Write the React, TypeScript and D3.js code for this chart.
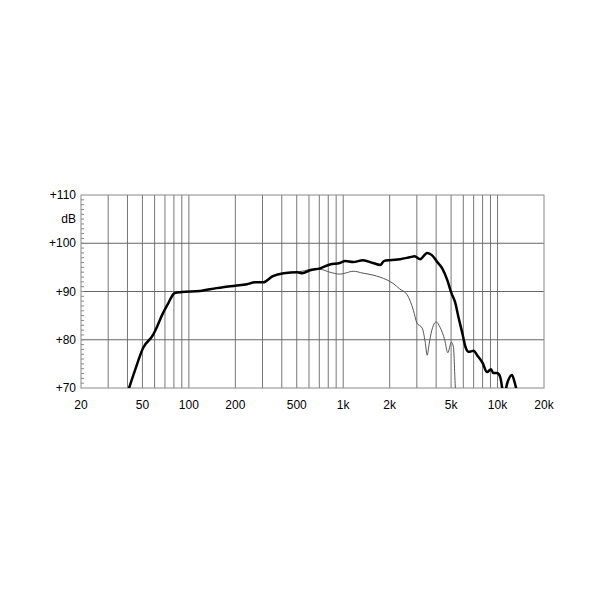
import React from "react";
import * as d3 from "d3";

const W = 600;
const H = 600;

// Frequency axis
const xTickLabels = ["20", "50", "100", "200", "500", "1k", "2k", "5k", "10k", "20k"];
const xTickValues = [20, 50, 100, 200, 500, 1000, 2000, 5000, 10000, 20000];
const xGridValues = [
  30, 40, 50, 60, 70, 80, 90, 100,
  200, 300, 400, 500, 600, 700, 800, 900, 1000,
  2000, 3000, 4000, 5000, 6000, 7000, 8000, 9000, 10000,
];

// Level axis
const yTickValues = [110, 100, 90, 80, 70];
const yTickLabels = ["+110", "+100", "+90", "+80", "+70"];
const yGridValues = [100, 90, 80];

// On-axis response (bold)
const onAxisFreq = [
  38, 41, 44.8, 50.5, 58.6, 62, 67, 73.6, 81, 90, 118, 151, 166, 200, 238,
  268, 303, 350, 411, 503, 543, 610, 707, 820, 950, 1030, 1160, 1345,
  1560, 1740, 1835, 2010, 2330, 2700, 2900, 3150, 3500, 3770, 4070, 4380,
  4720, 5020, 5330, 5580, 5910, 6200, 6500, 7000, 7370, 8000, 8550, 9070,
  9380, 9950, 10400, 11000, 11600, 12400, 12800, 13300, 13800,
];
const onAxisDb = [
  66.5, 70, 73.7, 78.3, 81, 82.6, 85.1, 87.6, 89.7, 89.9, 90.1, 90.7, 90.9, 91.2, 91.5,
  91.9, 91.9, 93.2, 93.8, 94.0, 93.8, 94.4, 94.8, 95.6, 95.9, 96.3, 96.1, 96.5,
  95.9, 95.5, 96.3, 96.5, 96.7, 97.1, 97.3, 96.7, 98.0, 97.5, 96.1, 94.8,
  92.4, 89.7, 87.6, 84.7, 81.4, 78.5, 77.5, 77.7, 76.8, 75.2, 73.3, 73.9,
  73.1, 73.1, 72.3, 68.5, 71.2, 72.7, 71.6, 69.5, 67,
];

// Off-axis response (thin)
const offAxisFreq = [
  500, 560, 620, 707, 820, 950, 1030, 1160, 1345, 1560, 1920, 2100, 2330,
  2600, 2850, 3000, 3250, 3400, 3500, 3600, 3670, 4000, 4240, 4550, 4760,
  5020, 5180, 5330, 5500,
];
const offAxisDb = [
  94.0, 94.3, 94.6, 94.6, 94.0, 93.6, 93.8, 94.2, 93.8, 93.4, 92.4, 91.7, 90.5,
  89.3, 86.1, 83.5, 82.4, 79.5, 76.8, 79.0, 80.6, 83.7, 82.6, 79.9, 77.3,
  79.5, 78.5, 70, 66,
];

export default function App() {
  const x = d3.scaleLog().domain([20, 20000]).range([81, 544]);
  const y = d3.scaleLinear().domain([70, 110]).range([388, 195]);
  const [x0, x1] = x.range();
  const [yb, yt] = y.range();

  const line = d3
    .line<[number, number]>()
    .x((d) => x(d[0]))
    .y((d) => y(d[1]))
    .curve(d3.curveMonotoneX);

  const onPts = onAxisFreq.map((f, i) => [f, onAxisDb[i]] as [number, number]);
  const offPts = offAxisFreq.map((f, i) => [f, offAxisDb[i]] as [number, number]);

  const minorY = d3.range(71, 110);

  const font = "Arial, 'Liberation Sans', sans-serif";

  return (
    <svg
      width={W}
      height={H}
      style={{ position: "absolute", left: 0, top: 0, background: "#fff" }}
    >
      <defs>
        <clipPath id="plot">
          <rect x={x0} y={yt} width={x1 - x0} height={yb - yt} />
        </clipPath>
      </defs>
      {/* vertical grid */}
      {xGridValues.map((v) => (
        <line
          key={"vx" + v}
          x1={x(v)}
          x2={x(v)}
          y1={yt}
          y2={yb}
          stroke="#777"
          strokeWidth={1}
        />
      ))}
      {/* horizontal grid */}
      {yGridValues.map((v) => (
        <line
          key={"hy" + v}
          x1={x0}
          x2={x1}
          y1={y(v)}
          y2={y(v)}
          stroke="#666"
          strokeWidth={1}
        />
      ))}
      {/* minor ticks on left axis */}
      {minorY.map((v) => (
        <line
          key={"my" + v}
          x1={x0}
          x2={x0 + 3}
          y1={y(v)}
          y2={y(v)}
          stroke="#888"
          strokeWidth={1}
        />
      ))}
      {/* frame */}
      <rect
        x={x0}
        y={yt}
        width={x1 - x0}
        height={yb - yt}
        fill="none"
        stroke="#888"
        strokeWidth={1}
      />
      {/* curves */}
      <g clipPath="url(#plot)">
        <path d={line(offPts) || ""} fill="none" stroke="#555" strokeWidth={1} />
        <path d={line(onPts) || ""} fill="none" stroke="#000" strokeWidth={2.5} strokeLinejoin="round" />
      </g>
      {/* y labels */}
      {yTickValues.map((v, i) => (
        <text
          key={"yl" + v}
          x={x0 - 5}
          y={y(v)}
          dy="0.35em"
          textAnchor="end"
          fontFamily={font}
          fontSize={12}
          fill="#000"
        >
          {yTickLabels[i]}
        </text>
      ))}
      <text
        x={x0 - 5}
        y={(y(110) + y(100)) / 2}
        dy="0.35em"
        textAnchor="end"
        fontFamily={font}
        fontSize={12}
        fill="#000"
      >
        dB
      </text>
      {/* x labels */}
      {xTickValues.map((v, i) => (
        <text
          key={"xl" + v}
          x={x(v)}
          y={409}
          textAnchor="middle"
          fontFamily={font}
          fontSize={12}
          fill="#000"
        >
          {xTickLabels[i]}
        </text>
      ))}
    </svg>
  );
}
